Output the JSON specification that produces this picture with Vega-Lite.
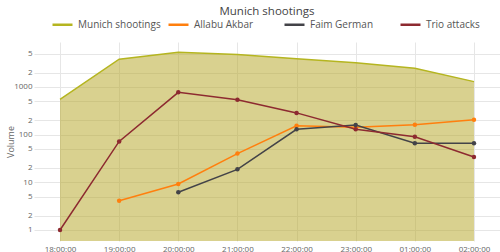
{
  "$schema": "https://vega.github.io/schema/vega-lite/v6.json",
  "autosize": "none",
  "width": 466,
  "height": 199,
  "padding": {"left": 34, "top": 42, "right": 0, "bottom": 11},
  "background": "white",
  "title": {"text": "Munich shootings", "anchor": "middle", "frame": "group", "fontSize": 11.5, "font": "Open Sans", "fontWeight": "normal", "color": "#444444", "offset": -4},
  "config": {
    "view": {"stroke": null},
    "font": "Open Sans",
    "axis": {"labelFont": "Open Sans", "titleFont": "Open Sans", "labelColor": "#666666", "titleColor": "#666666", "gridColor": "#e6e6e6", "gridWidth": 1, "domain": false, "ticks": false}
  },
  "data": {"values": [
    {"time": "18:00:00", "series": "Munich shootings", "value": 550},
    {"time": "19:00:00", "series": "Munich shootings", "value": 3800},
    {"time": "20:00:00", "series": "Munich shootings", "value": 5300},
    {"time": "21:00:00", "series": "Munich shootings", "value": 4800},
    {"time": "22:00:00", "series": "Munich shootings", "value": 3900},
    {"time": "23:00:00", "series": "Munich shootings", "value": 3200},
    {"time": "01:00:00", "series": "Munich shootings", "value": 2450},
    {"time": "02:00:00", "series": "Munich shootings", "value": 1290},
    {"time": "19:00:00", "series": "Allabu Akbar", "value": 4.1},
    {"time": "20:00:00", "series": "Allabu Akbar", "value": 9.2},
    {"time": "21:00:00", "series": "Allabu Akbar", "value": 40},
    {"time": "22:00:00", "series": "Allabu Akbar", "value": 153},
    {"time": "23:00:00", "series": "Allabu Akbar", "value": 142},
    {"time": "01:00:00", "series": "Allabu Akbar", "value": 160},
    {"time": "02:00:00", "series": "Allabu Akbar", "value": 205},
    {"time": "20:00:00", "series": "Faim German", "value": 6.2},
    {"time": "21:00:00", "series": "Faim German", "value": 18.7},
    {"time": "22:00:00", "series": "Faim German", "value": 129},
    {"time": "23:00:00", "series": "Faim German", "value": 159},
    {"time": "01:00:00", "series": "Faim German", "value": 66},
    {"time": "02:00:00", "series": "Faim German", "value": 66},
    {"time": "18:00:00", "series": "Trio attacks", "value": 1},
    {"time": "19:00:00", "series": "Trio attacks", "value": 72},
    {"time": "20:00:00", "series": "Trio attacks", "value": 770},
    {"time": "21:00:00", "series": "Trio attacks", "value": 540},
    {"time": "22:00:00", "series": "Trio attacks", "value": 285},
    {"time": "23:00:00", "series": "Trio attacks", "value": 129},
    {"time": "01:00:00", "series": "Trio attacks", "value": 90},
    {"time": "02:00:00", "series": "Trio attacks", "value": 34}
  ]},
  "encoding": {
    "x": {"field": "time", "type": "ordinal",
      "sort": ["18:00:00", "19:00:00", "20:00:00", "21:00:00", "22:00:00", "23:00:00", "01:00:00", "02:00:00"],
      "scale": {"type": "point", "padding": 0.44},
      "axis": {"title": null, "labelAngle": 0, "grid": true, "labelFontSize": 8, "labelPadding": 4}},
    "y": {"field": "value", "type": "quantitative",
      "scale": {"type": "log", "domain": [0.588, 8730], "nice": false},
      "axis": {"title": "Volume", "titleFontSize": 9, "titleFontWeight": "normal", "titlePadding": -2,
        "values": [1, 2, 5, 10, 20, 50, 100, 200, 500, 1000, 2000, 5000],
        "labelExpr": "substring(toString(datum.value),0,1) == '1' ? toString(datum.value) : substring(toString(datum.value),0,1)",
        "labelFontSize": 8, "labelPadding": 2}}
  },
  "layer": [
    {
      "transform": [{"filter": "datum.series == 'Munich shootings'"}],
      "mark": {"type": "area", "fill": "#b3a41f", "fillOpacity": 0.5},
      "encoding": {"y2": {"datum": 0.588}}
    },
    {
      "mark": {"type": "line", "strokeWidth": 1.5},
      "encoding": {
        "color": {"field": "series", "type": "nominal",
          "scale": {"domain": ["Munich shootings", "Allabu Akbar", "Faim German", "Trio attacks"], "range": ["#b5b520", "#ff7f0e", "#434348", "#8d2a30"]},
          "legend": {"title": null, "orient": "none", "legendX": 17, "legendY": -29, "direction": "horizontal", "columns": 4, "gridAlign": "all", "columnPadding": 2,
            "symbolType": "stroke", "symbolSize": 400, "symbolStrokeWidth": 2.5, "labelFontSize": 10, "labelColor": "#555555", "labelFont": "Open Sans", "labelOffset": 4}}
      }
    },
    {
      "transform": [{"filter": "datum.series != 'Munich shootings'"}],
      "mark": {"type": "point", "filled": true, "size": 20, "opacity": 1},
      "encoding": {"color": {"field": "series", "type": "nominal", "legend": null}}
    }
  ]
}
